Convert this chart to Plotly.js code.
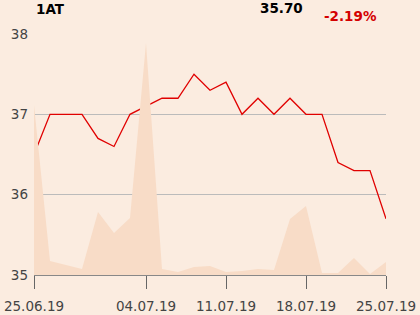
<!DOCTYPE html>
<html>
<head>
<meta charset="utf-8">
<script src="https://cdn.plot.ly/plotly-3.0.1.min.js"></script>
<style>html,body{margin:0;padding:0;background:#fbece0;}#chart{width:420px;height:315px;}</style>
</head>
<body>
<div id="chart"></div>
<script>
const dates = ['25.06.19','26.06.19','27.06.19','28.06.19','01.07.19','02.07.19','03.07.19','04.07.19','05.07.19','08.07.19','09.07.19','10.07.19','11.07.19','12.07.19','15.07.19','16.07.19','17.07.19','18.07.19','19.07.19','22.07.19','23.07.19','24.07.19','25.07.19'];
const close = [36.5,37.0,37.0,37.0,36.7,36.6,37.0,37.1,37.2,37.2,37.5,37.3,37.4,37.0,37.2,37.0,37.2,37.0,37.0,36.4,36.3,36.3,35.7];
const volume = [170,14,10,6,63,42,57,232,6,3,8,9,3,4,6,5,56,69,2,2,17,1,13];
const tickLabels = ['25.06.19','04.07.19','11.07.19','18.07.19','25.07.19'];
const yTicks = [35,36,37,38];
const symbol = '1AT';
const lastPrice = '35.70';
const change = '-2.19%';

const traces = [
  {x: dates, y: volume, yaxis: 'y2', type: 'scatter', mode: 'lines', fill: 'tozeroy',
   line: {width: 0, color: '#f8dcc7'}, fillcolor: '#f8dcc7', hoverinfo: 'skip'},
  {x: dates, y: close, type: 'scatter', mode: 'lines', line: {color: '#e00000', width: 1.3}, cliponaxis: false}
];
const layout = {
  width: 420, height: 315,
  margin: {l: 34, r: 34, t: 34, b: 40},
  paper_bgcolor: '#fbece0', plot_bgcolor: '#fbece0',
  showlegend: false,
  font: {family: 'DejaVu Sans', color: '#444'},
  xaxis: {type: 'category', range: [0, 22], tickvals: tickLabels, ticktext: tickLabels,
    ticks: 'outside', ticklen: 13, tickcolor: '#666', tickwidth: 1, ticklabelstandoff: 6,
    showgrid: false, showline: true, linecolor: '#888', linewidth: 1,
    tickfont: {size: 13.5, color: '#444'}, zeroline: false},
  yaxis: {range: [35, 38], tickvals: yTicks, showgrid: true, gridcolor: '#bbbbbb',
    ticks: '', ticklabelstandoff: 5, tickfont: {size: 13.5, color: '#444'}, zeroline: false, showline: false},
  yaxis2: {overlaying: 'y', range: [0, 241], visible: false, showgrid: false},
  annotations: [
    {text: '<b>' + symbol + '</b>', xref: 'paper', yref: 'paper', x: -0.0, xanchor: 'left',
     y: 1, yanchor: 'bottom', yshift: 15, showarrow: false, font: {size: 13.5, color: '#000'}},
    {text: '<b>' + lastPrice + '</b>', xref: 'paper', yref: 'paper', x: 0.703, xanchor: 'center',
     y: 1, yanchor: 'bottom', yshift: 16, showarrow: false, font: {size: 13.5, color: '#000'}},
    {text: '<b>' + change + '</b>', xref: 'paper', yref: 'paper', x: 0.899, xanchor: 'center',
     y: 1, yanchor: 'bottom', yshift: 8, showarrow: false, font: {size: 13.5, color: '#d40000'}}
  ]
};
Plotly.newPlot('chart', traces, layout, {displayModeBar: false, staticPlot: true});
</script>
</body>
</html>
